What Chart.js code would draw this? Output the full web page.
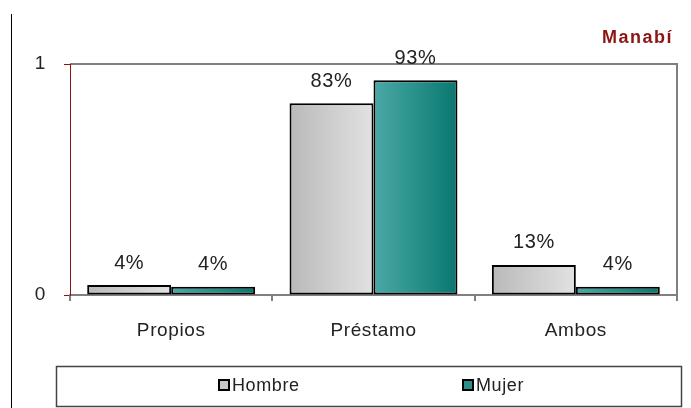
<!DOCTYPE html>
<html><head><meta charset="utf-8">
<script src="https://cdn.jsdelivr.net/npm/chart.js@4/dist/chart.umd.min.js"></script>
<style>html,body{margin:0;padding:0;background:#fff}#w{width:691px;height:408px;position:relative}</style>
</head><body><div id="w"><canvas id="c" width="691" height="408"></canvas></div>
<script>
const categories = ['Propios', 'Préstamo', 'Ambos'];
const hombre = [0.043, 0.83, 0.13];
const mujer = [0.036, 0.93, 0.036];
const seriesNames = ['Hombre', 'Mujer'];
const yTicks = [0, 1];
const title = 'Manabí';

const FONT = "'Liberation Sans', Arial, sans-serif";
const gradStops = [['#b9b9b9', '#e2e2e2'], ['#4ba9a5', '#08786f']];
const legendSwatch = ['#c8c8c8', '#2a8f89'];

const gradPlugin = {
  id: 'grad',
  beforeDatasetsDraw(chart) {
    const ctx = chart.ctx;
    chart.data.datasets.forEach((ds, i) => {
      chart.getDatasetMeta(i).data.forEach(bar => {
        const l = bar.x - bar.width / 2, r = bar.x + bar.width / 2;
        const g = ctx.createLinearGradient(l, 0, r, 0);
        g.addColorStop(0, gradStops[i][0]);
        g.addColorStop(1, gradStops[i][1]);
        bar.options = Object.assign({}, bar.options, { backgroundColor: g });
      });
    });
  }
};

const decoPlugin = {
  id: 'deco',
  beforeDraw(chart) {
    const ctx = chart.ctx, a = chart.chartArea;
    ctx.letterSpacing = '0.6px';
    ctx.save();
    ctx.strokeStyle = '#808080';
    ctx.lineWidth = 2;
    ctx.beginPath();
    ctx.moveTo(a.left, a.top); ctx.lineTo(a.right, a.top); ctx.lineTo(a.right, a.bottom);
    ctx.stroke();
    ctx.restore();
  },
  afterDraw(chart) {
    const ctx = chart.ctx, a = chart.chartArea;
    ctx.save();
    // left frame line
    ctx.strokeStyle = '#000';
    ctx.lineWidth = 1;
    ctx.beginPath(); ctx.moveTo(11.5, 14); ctx.lineTo(11.5, 408); ctx.stroke();
    // title
    ctx.fillStyle = '#8b1414';
    ctx.font = 'bold 18px ' + FONT;
    ctx.letterSpacing = '1.5px';
    ctx.textAlign = 'right'; ctx.textBaseline = 'middle';
    ctx.fillText(title, 673, 38);
    // data labels
    ctx.letterSpacing = '0.6px';
    ctx.fillStyle = '#222';
    ctx.font = '20px ' + FONT;
    ctx.textAlign = 'center'; ctx.textBaseline = 'bottom';
    chart.data.datasets.forEach((ds, i) => {
      chart.getDatasetMeta(i).data.forEach((bar, j) => {
        ctx.fillText(Math.round(ds.data[j] * 100) + '%', bar.x, bar.y - 12);
      });
    });
    // legend
    ctx.strokeStyle = '#444';
    ctx.lineWidth = 1.5;
    ctx.strokeRect(56.5, 366.5, 625, 40);
    const lx = [219, 463];
    ctx.font = '18px ' + FONT;
    ctx.textAlign = 'left'; ctx.textBaseline = 'middle';
    seriesNames.forEach((n, i) => {
      ctx.fillStyle = legendSwatch[i];
      ctx.fillRect(lx[i], 380, 10, 10);
      ctx.strokeStyle = '#000'; ctx.lineWidth = 2;
      ctx.strokeRect(lx[i], 380, 10, 10);
      ctx.fillStyle = '#222';
      ctx.fillText(n, lx[i] + 13, 386);
    });
    ctx.restore();
  }
};

new Chart(document.getElementById('c'), {
  type: 'bar',
  data: {
    labels: categories,
    datasets: [
      { label: seriesNames[0], data: hombre, borderColor: '#000', borderWidth: 2, borderSkipped: false, backgroundColor: '#ccc' },
      { label: seriesNames[1], data: mujer, borderColor: '#000', borderWidth: 2, borderSkipped: false, backgroundColor: '#2a8f89' }
    ]
  },
  options: {
    responsive: false,
    animation: false,
    events: [],
    layout: { padding: { left: 0, top: 64, right: 14, bottom: 0 } },
    datasets: { bar: { categoryPercentage: 0.83, barPercentage: 1 } },
    plugins: { legend: { display: false }, tooltip: { enabled: false }, title: { display: false } },
    scales: {
      x: {
        grid: { offset: true, drawOnChartArea: false, drawTicks: true, tickLength: 6, color: '#808080', lineWidth: 2 },
        border: { color: '#808080', width: 2 },
        ticks: { font: { size: 19, family: FONT }, color: '#222', padding: 18 },
        afterFit(s) { s.height = 113; }
      },
      y: {
        min: 0, max: 1,
        afterBuildTicks(s) { s.ticks = yTicks.map(v => ({ value: v })); },
        grid: { drawOnChartArea: false, drawTicks: true, tickLength: 6, color: '#8b1414', lineWidth: 1 },
        border: { color: '#8b1414', width: 1 },
        ticks: { font: { size: 19, family: FONT }, color: '#222', padding: 18 },
        afterFit(s) { s.width = 70; }
      }
    }
  },
  plugins: [gradPlugin, decoPlugin]
});
</script></body></html>
